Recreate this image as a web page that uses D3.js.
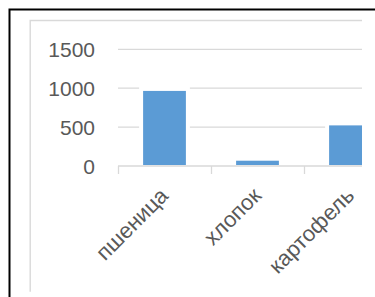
<!DOCTYPE html>
<html><head><meta charset="utf-8">
<script src="https://cdn.jsdelivr.net/npm/d3@7/dist/d3.min.js"></script>
<style>html,body{margin:0;padding:0;background:#fff;}svg{display:block;}</style>
</head><body>
<svg id="chart" width="375" height="297"></svg>
<script>
const categories = ["пшеница", "хлопок", "картофель"];
const values = [965, 68, 522];
const yTicks = [0, 500, 1000, 1500];

const svg = d3.select("#chart");
const textColor = "#595959", gridColor = "#D9D9D9", barColor = "#5B9BD5";
const font = "'Liberation Sans', Arial, sans-serif";

// outer black frame
svg.append("path").attr("d", "M9.5,297 V9.5 H375").attr("fill", "none")
  .attr("stroke", "#000").attr("stroke-width", 2);

const defs = svg.append("defs");
defs.append("clipPath").attr("id", "clip").append("rect")
  .attr("x", 0).attr("y", 0).attr("width", 362).attr("height", 297);

const g = svg.append("g").attr("clip-path", "url(#clip)");
// inner chart-area border (left and top edges visible)
g.append("path").attr("d", "M30.2,291.7 V20.5 H400")
  .attr("fill", "none").attr("stroke", gridColor).attr("stroke-width", 1.4);

const y = d3.scaleLinear().domain([0, 1500]).range([166, 49.3]);
const x = d3.scaleBand().domain(categories).range([118, 397]).paddingInner(0.54).paddingOuter(0.27);

// gridlines
g.append("g").selectAll("line").data(yTicks.filter(d => d > 0)).join("line")
  .attr("x1", 118).attr("x2", 400).attr("y1", d => y(d)).attr("y2", d => y(d))
  .attr("stroke", gridColor).attr("stroke-width", 1.3);

// bars
g.append("g").selectAll("rect").data(values).join("rect")
  .attr("x", (d, i) => x(categories[i])).attr("width", x.bandwidth())
  .attr("y", d => y(d)).attr("height", d => y(0) - 1 - y(d))
  .attr("fill", barColor).attr("stroke", "#fff").attr("stroke-width", 8)
  .attr("paint-order", "stroke");

// x axis
const xa = d3.axisBottom(d3.scalePoint().domain(d3.range(4)).range([118, 397]))
  .tickSize(8).tickFormat("");
const xg = g.append("g").attr("transform", "translate(0,166)").call(xa);
xg.select(".domain").attr("stroke", gridColor).attr("stroke-width", 1.3).attr("d", "M118,0H400");
xg.selectAll(".tick line").attr("stroke", gridColor).attr("stroke-width", 1.3);

// y labels
const ya = d3.axisLeft(y).tickValues(yTicks).tickSize(0).tickPadding(0).tickFormat(d3.format("d"));
const yg = g.append("g").attr("transform", "translate(95,0)").call(ya);
yg.select(".domain").remove();
yg.selectAll("text").attr("fill", textColor).style("font-family", font).style("font-size", "21px")
  .attr("dy", "0.35em");

// category labels
g.append("g").selectAll("text").data(categories).join("text")
  .attr("transform", d => `translate(${x(d) + x.bandwidth() / 2 + 5},${197}) rotate(-45)`)
  .attr("text-anchor", "end")
  .attr("fill", textColor).style("font-family", font).style("font-size", "22px")
  .text(d => d);
</script>
</body></html>
